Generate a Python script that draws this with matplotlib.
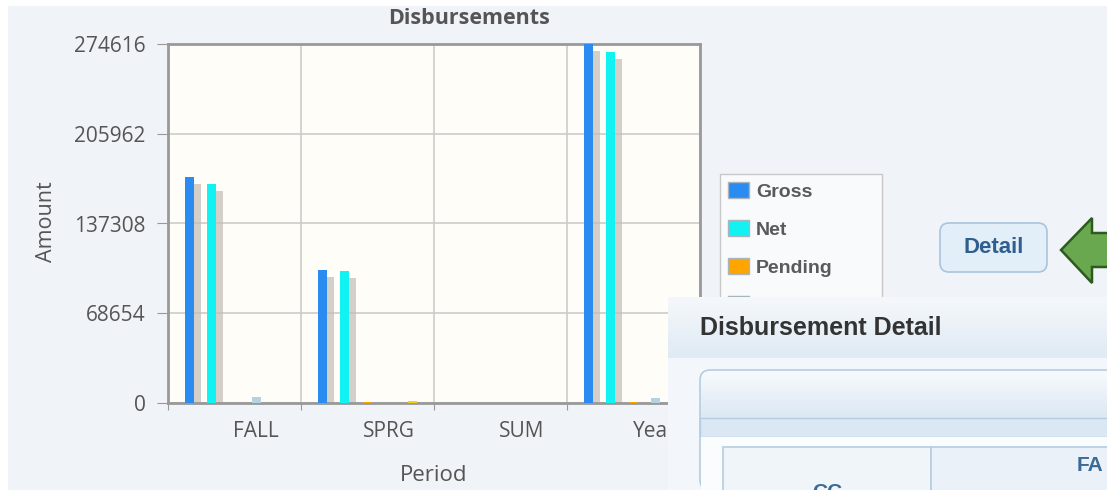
import matplotlib
matplotlib.use("Agg")
import matplotlib.pyplot as plt
import numpy as np
from matplotlib.patches import Rectangle, FancyBboxPatch, Polygon

W, H = 1107, 490

periods = ["FALL", "SPRG", "SUM", "Year"]
series = ["Gross", "Net", "Pending", "Adjustments", "Refunds"]
colors = ["#2a8cf0", "#12f2f2", "#ffa500", "#b3d3de", "#f2d21b"]
gross = [172900, 101700, 0, 274616]
net = [167500, 101300, 0, 268500]
pending = [0, 700, 0, 800]
adjust = [4500, 0, 0, 4200]
refunds = [0, 1500, 0, 0]
values = [gross, net, pending, adjust, refunds]
yticks = [0, 68654, 137308, 205962, 274616]


def fx(x):
    return x / W


def fy(y):
    return 1 - y / H


fig = plt.figure(figsize=(W / 100, H / 100), dpi=100, facecolor="white")

# page background, button and arrow (pixel coords)
bg = fig.add_axes([0, 0, 1, 1], zorder=-1)
bg.set_xlim(0, W)
bg.set_ylim(H, 0)
bg.axis("off")
bg.add_patch(Rectangle((8, 6), W, H, facecolor="#f0f3f7", edgecolor="none"))
bg.add_patch(FancyBboxPatch((940, 223), 107, 49, boxstyle="round,pad=0,rounding_size=9",
                            facecolor="#e2eef8", edgecolor="#a9c4de", lw=1.2))
bg.text(994, 247, "Detail", ha="center", va="center", fontsize=16, fontweight="bold",
        color="#2f5f8f", family="Liberation Sans")
arrow = [(1061, 250), (1092, 218), (1092, 233), (1110, 233), (1110, 267), (1092, 267), (1092, 283)]
bg.add_patch(Polygon(arrow, closed=True, facecolor="#6aa84f", edgecolor="#2d5a1e", lw=1.8))
bg.text(469, 19, "Disbursements", ha="center", va="center", fontsize=15.5, fontweight="bold",
        color="#555555", family="Open Sans")
bg.text(434, 475, "Period", ha="center", va="center", fontsize=16, color="#555555",
        family="Open Sans")
bg.text(47, 222, "Amount", ha="center", va="center", rotation=90, fontsize=15.5,
        color="#555555", family="Open Sans")

# main chart
ax = fig.add_axes([fx(168), fy(403), (700 - 168) / W, (403 - 44) / H])
ax.set_facecolor("#fffdf8")
ax.set_xlim(0, 4)
ax.set_ylim(0, 274616)

bw = 9 / 133
handles = []
for k, (vals, c) in enumerate(zip(values, colors)):
    xs = np.arange(4) + (21 + 22.5 * k) / 133
    sh = [max(v - 5500, 0) for v in vals]
    ax.bar(xs + 7 / 133, sh, width=bw, color="#c2bdb5", alpha=0.7, zorder=2, lw=0)
    b = ax.bar(xs, vals, width=bw, color=c, zorder=3, lw=0, label=series[k])
    handles.append(b)

ax.set_yticks(yticks)
ax.set_yticklabels([str(t) for t in yticks], fontsize=15, color="#555555", family="Open Sans")
ax.set_xticks([0, 1, 2, 3, 4])
ax.set_xticklabels([])
ax.set_xticks(np.arange(4) + 0.66, minor=True)
ax.set_xticklabels(periods, minor=True, fontsize=15, color="#555555", family="Open Sans")
ax.tick_params(axis="x", which="minor", length=0, pad=13)
ax.tick_params(axis="x", which="major", length=5, color="#999999")
ax.tick_params(axis="y", length=8, color="#999999", pad=8)
ax.grid(True, which="major", color="#cccccc", lw=1.2, zorder=1)
ax.set_axisbelow(True)
for s in ax.spines.values():
    s.set_color("#999999")
    s.set_linewidth(2)

# legend
leg = fig.legend(handles=handles, labels=series, loc="upper left",
                 bbox_to_anchor=(fx(720), fy(174)), borderaxespad=0,
                 prop={"family": "Liberation Sans", "weight": "bold", "size": 14},
                 labelcolor="#5a5a5a", fancybox=False, frameon=True, edgecolor="#c8c8c8",
                 facecolor="#f8fafc", framealpha=1, handlelength=1.1, handleheight=0.9,
                 handletextpad=0.35, labelspacing=1.0, borderpad=0.4)
leg.get_frame().set_linewidth(1)
for p in leg.get_patches():
    p.set_edgecolor("#aab4bc")
    p.set_linewidth(1)

# overlaid dialog panel
px0 = 668
pn = fig.add_axes([fx(px0), 0, (W - px0) / W, (H - 297) / H], zorder=10)
pn.set_xlim(px0, W)
pn.set_ylim(H, 297)
pn.axis("off")
pn.add_patch(Rectangle((px0, 297), W, H, facecolor="#f3f6fa", edgecolor="none"))
grad = np.linspace(0, 1, 64).reshape(-1, 1)
pn.imshow(grad, extent=(px0, W, 358, 297), cmap=matplotlib.colors.LinearSegmentedColormap.from_list(
    "h", ["#f5f8fb", "#dfeaf4"]), aspect="auto", zorder=1, origin="upper")
pn.text(700, 328, "Disbursement Detail", ha="left", va="center", fontsize=18,
        fontweight="bold", color="#333333", family="Liberation Sans", zorder=5)
pn.imshow(grad, extent=(700, W + 10, 418, 370), cmap=matplotlib.colors.LinearSegmentedColormap.from_list(
    "b", ["#f8fbfd", "#dce8f3"]), aspect="auto", zorder=2, origin="upper")
pn.add_patch(FancyBboxPatch((700, 370), 430, 120, boxstyle="round,pad=0,rounding_size=10",
                            facecolor="none", edgecolor="#b4cde2", lw=1.2, zorder=3))
pn.add_patch(Rectangle((700, 418), 430, 19, facecolor="#dbe8f4", edgecolor="#b4cde2", lw=1, zorder=3))
pn.add_patch(Rectangle((701, 437), 430, 60, facecolor="#fbfcfd", edgecolor="none", zorder=3))
pn.add_patch(Rectangle((723, 447), 208, 60, facecolor="#f0f5fa", edgecolor="#b4cde2", lw=1.2, zorder=4))
pn.add_patch(Rectangle((931, 447), 200, 60, facecolor="#eaf1f8", edgecolor="#b4cde2", lw=1.2, zorder=4))
pn.text(1077, 465, "FA", ha="left", va="center", fontsize=15, fontweight="bold",
        color="#3a6a96", family="Liberation Sans", zorder=5)
pn.text(827, 483, "CC", ha="center", va="top", fontsize=15, fontweight="bold",
        color="#3a6a96", family="Liberation Sans", zorder=5)

fig.savefig("out.png", dpi=100, facecolor="white")
